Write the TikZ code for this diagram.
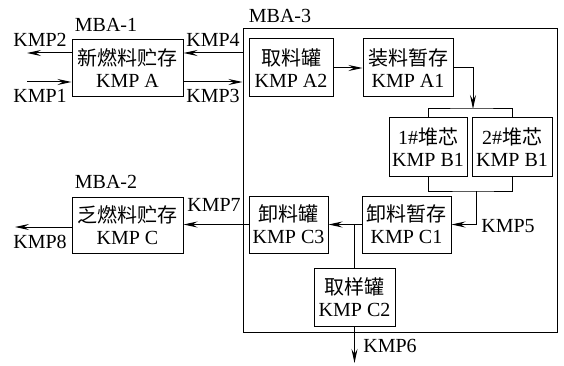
\documentclass[tikz,border=0pt]{standalone}
\usepackage{fontspec}
\setmainfont{Liberation Serif}
\newfontfamily\cjk{Noto Sans CJK SC}
\usetikzlibrary{arrows.meta}
\begin{document}
\begin{tikzpicture}[x=1pt,y=-1pt,
  line width=1pt,
  every node/.style={font=\fontsize{20}{22}\selectfont, inner sep=0pt},
  box/.style={draw, align=center},
  lbl/.style={},
  arr/.style={-{Stealth[length=14pt,width=6pt,inset=5pt]}}]
\useasboundingbox (0,0) rectangle (564,366);

% outer area MBA-3
\node[draw, minimum width=314pt, minimum height=303pt] (M3) at (400,180.5) {};
\node[lbl] (m3lbl) at (280,16) {MBA-3};
\node[lbl] (m1lbl) at (106,25) {MBA-1};
\node[lbl] (m2lbl) at (106,182) {MBA-2};

% storage boxes
\node[box, minimum width=111pt, minimum height=57pt] (A) at (127.5,68.5) {{\cjk 新燃料贮存}\\KMP A};
\node[box, minimum width=111pt, minimum height=56pt] (C) at (127.5,225) {{\cjk 乏燃料贮存}\\KMP C};

% inner boxes
\node[box, minimum width=84pt, minimum height=58pt] (A2) at (291,68) {{\cjk 取料罐}\\KMP A2};
\node[box, minimum width=90pt, minimum height=58pt] (A1) at (408,68) {{\cjk 装料暂存}\\KMP A1};
\node[box, minimum width=78pt, minimum height=58pt] (B1a) at (428,147) {1\#{\cjk 堆芯}\\KMP B1};
\node[box, minimum width=80pt, minimum height=58pt] (B1b) at (512,147) {2\#{\cjk 堆芯}\\KMP B1};
\node[box, minimum width=89pt, minimum height=57pt] (C1) at (406.5,224.5) {{\cjk 卸料暂存}\\KMP C1};
\node[box, minimum width=79pt, minimum height=57pt] (C3) at (288.5,224.5) {{\cjk 卸料罐}\\KMP C3};
\node[box, minimum width=81pt, minimum height=58pt] (C2) at (354.5,297) {{\cjk 取样罐}\\KMP C2};

% free ends
\coordinate (k2) at (27,53);
\coordinate (k1) at (27,82);
\coordinate (k8) at (15,227);
\coordinate (k6) at (354.5,363);
\coordinate (tb) at (473,109);
\coordinate (bb) at (476,191);

% MBA-1 flows
\draw[arr] (A.west |- k2) -- (k2);
\draw[arr] (k1) -- (A.west |- k1);
\draw[arr] (M3.west |- k2) -- (A.east |- k2);
\draw[arr] (A.east |- k1) -- (M3.west |- k1);
\node[lbl] (l2) at (40,40) {KMP2};
\node[lbl] (l1) at (40,96) {KMP1};
\node[lbl] (l4) at (213,40) {KMP4};
\node[lbl] (l3) at (213,96) {KMP3};

% loading path
\draw[arr] (A2) -- (A1);
\draw[arr] (A1.east) -| (tb);
\draw (B1a.north) |- (tb) -| (B1b.north);
\draw (B1a.south) |- (bb) -| (B1b.south);
\draw[arr] (bb) |- (C1.east);
\node[lbl] (l5) at (508,226) {KMP5};

% unloading path
\draw[arr] (C1.west) -- (C3.east);
\draw (C2.north) -- (C2.north |- C1.west);
\draw[arr] (C2.south) -- (k6);
\node[lbl] (l6) at (390,346) {KMP6};
\draw[arr] (C3.west) -- (C.east |- C3.west);
\node[lbl] (l7) at (214,205) {KMP7};
\draw[arr] (C.west |- k8) -- (k8);
\node[lbl] (l8) at (40,242) {KMP8};
\end{tikzpicture}
\end{document}
